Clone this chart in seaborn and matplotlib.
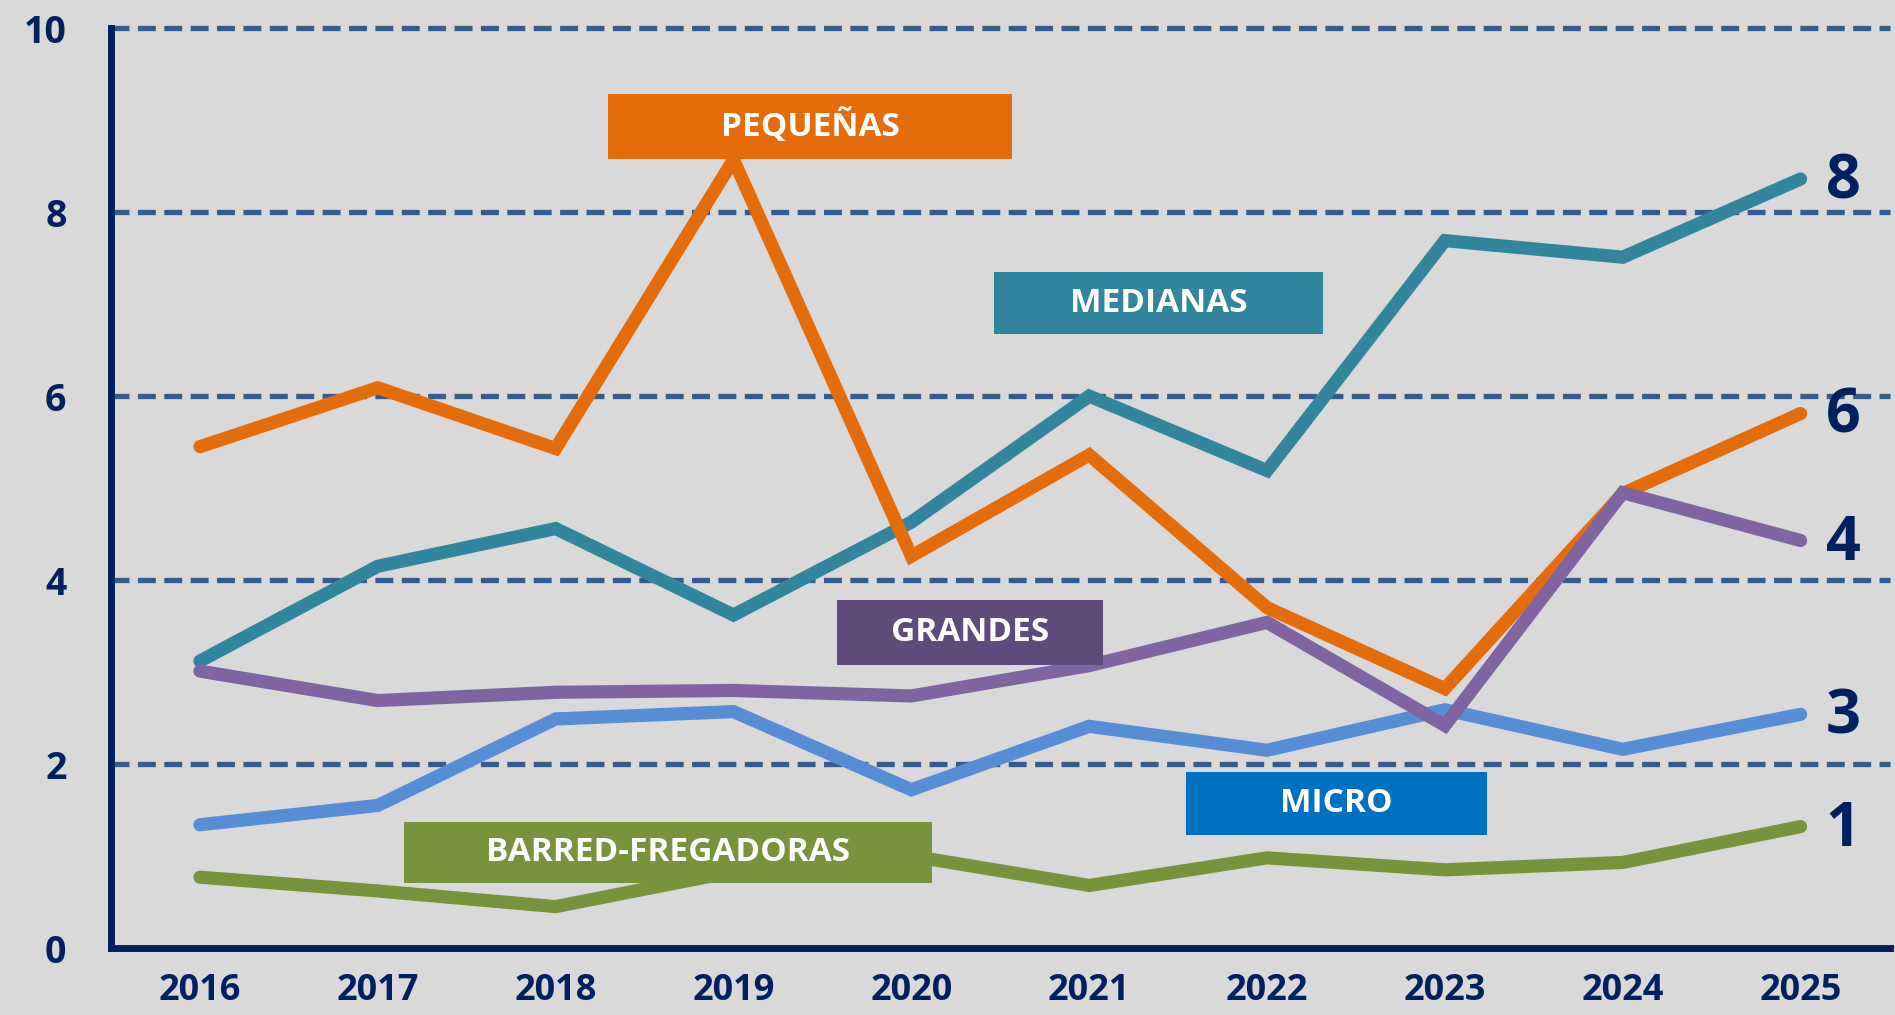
import matplotlib.pyplot as plt
import matplotlib.patches as mpatches
import numpy as np
import pandas as pd
import seaborn as sns

# Data
years = ["2016", "2017", "2018", "2019", "2020", "2021", "2022", "2023", "2024", "2025"]
medianas = [3.12, 4.15, 4.56, 3.62, 4.63, 6.00, 5.19, 7.69, 7.51, 8.36]
pequenas = [5.45, 6.09, 5.43, 8.57, 4.26, 5.36, 3.70, 2.82, 4.94, 5.81]
micro = [1.34, 1.55, 2.49, 2.57, 1.72, 2.41, 2.15, 2.59, 2.16, 2.54]
grandes = [3.01, 2.69, 2.78, 2.80, 2.74, 3.07, 3.54, 2.42, 4.95, 4.43]
barred = [0.77, 0.62, 0.45, 0.83, 1.00, 0.68, 0.98, 0.85, 0.93, 1.32]

series_names = ["MEDIANAS", "PEQUEÑAS", "MICRO", "GRANDES", "BARRED-FREGADORAS"]
line_colors = ["#31859C", "#E46C0A", "#558ED5", "#8064A2", "#77933C"]
box_colors = ["#31859C", "#E46C0A", "#0070C0", "#604A7B", "#77933C"]
end_labels = ["8", "6", "3", "4", "1"]

df = pd.DataFrame({"x": np.arange(len(years)), "MEDIANAS": medianas, "PEQUEÑAS": pequenas,
                   "MICRO": micro, "GRANDES": grandes, "BARRED-FREGADORAS": barred})
long_df = df.melt(id_vars="x", var_name="serie", value_name="valor")

navy = "#002060"
bg = "#D9D9D9"

sns.set_theme(style="white")
plt.rcParams["font.family"] = ["Open Sans", "DejaVu Sans"]
plt.rcParams["font.weight"] = "bold"

fig = plt.figure(figsize=(18.95, 10.15), dpi=100, facecolor=bg)
ax = fig.add_axes([0.0586, 0.066, 0.9385, 0.909])
ax.set_facecolor(bg)

sns.lineplot(data=long_df, x="x", y="valor", hue="serie", hue_order=series_names,
             palette=dict(zip(series_names, line_colors)), linewidth=9.5,
             legend=False, ax=ax, solid_capstyle="round", solid_joinstyle="miter")

ax.set_xlim(-0.5, 9.5)
ax.set_ylim(0, 10.03)

# dashed gridlines
for yv in [2, 4, 6, 8, 10]:
    ax.axhline(yv, color="#365C8F", lw=3.8, ls=(0, (3.4, 1.6)), zorder=0.5, clip_on=False)

for s in ["top", "right"]:
    ax.spines[s].set_visible(False)
for s in ["left", "bottom"]:
    ax.spines[s].set_color(navy)
    ax.spines[s].set_linewidth(5)
ax.spines["left"].set_bounds(0, 10)

ax.set_yticks([0, 2, 4, 6, 8, 10])
ax.set_yticklabels(["0", "2", "4", "6", "8", "10"])
ax.tick_params(axis="y", length=12, width=5, color=navy, labelcolor=navy,
               labelsize=27, pad=20, direction="out")

ax.set_xticks(np.arange(len(years)))
ax.set_xticklabels(years)
ax.tick_params(axis="x", which="major", length=0, labelcolor=navy, labelsize=26, pad=18)
ax.set_xticks(np.arange(-0.5, len(years)), minor=True)
ax.tick_params(axis="x", which="minor", length=8, width=5, color=navy, direction="out")
for lab in ax.get_xticklabels() + ax.get_yticklabels():
    lab.set_fontweight("bold")

ax.set_xlabel("")
ax.set_ylabel("")

# label boxes: (center x, center y, width, height) in data units
boxes = {
    "PEQUEÑAS": (3.43, 8.93, 2.27, 0.70),
    "MEDIANAS": (5.39, 7.01, 1.85, 0.68),
    "GRANDES": (4.33, 3.43, 1.50, 0.71),
    "MICRO": (6.39, 1.57, 1.69, 0.68),
    "BARRED-FREGADORAS": (2.63, 1.04, 2.97, 0.66),
}
for name, col in zip(series_names, box_colors):
    cx, cy, w, h = boxes[name]
    ax.add_patch(mpatches.Rectangle((cx - w / 2, cy - h / 2), w, h, facecolor=col,
                                    edgecolor="none", zorder=5))
    ax.text(cx, cy, name, color="white", fontsize=24, fontweight="bold",
            ha="center", va="center", zorder=6)

# end values
ends = [medianas[-1], pequenas[-1], micro[-1], grandes[-1], barred[-1]]
for lab, yv in zip(end_labels, ends):
    ax.text(9.24, yv - 0.04, lab, color=navy, fontsize=44, fontweight="bold",
            ha="center", va="center", zorder=6)

fig.savefig("out.png", dpi=100, facecolor=bg)
